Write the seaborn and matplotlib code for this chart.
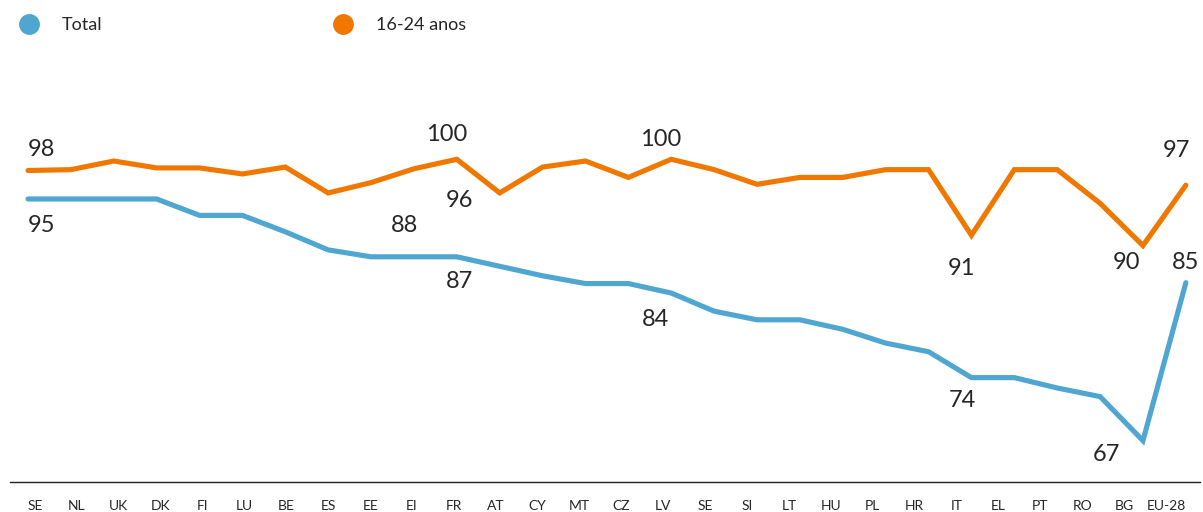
import numpy as np
import pandas as pd
import matplotlib
matplotlib.use('Agg')
import matplotlib.pyplot as plt
from matplotlib.lines import Line2D
import seaborn as sns


# Data.
countries = ['SE', 'NL', 'UK', 'DK', 'FI', 'LU', 'BE', 'ES', 'EE', 'EI', 'FR', 'AT', 'CY', 'MT',
             'CZ', 'LV', 'SE', 'SI', 'LT', 'HU', 'PL', 'HR', 'IT', 'EL', 'PT', 'RO', 'BG', 'EU-28']
total = [95.0, 95.0, 95.0, 95.0, 93.1, 93.1, 91.2, 89.1, 88.3, 88.3, 88.3, 87.2, 86.1, 85.2,
         85.2, 84.1, 82.0, 81.0, 81.0, 79.9, 78.3, 77.3, 74.3, 74.3, 73.1, 72.1, 67.0, 85.3]
young = [98.3, 98.4, 99.4, 98.6, 98.6, 97.9, 98.7, 95.7, 96.9, 98.5, 99.6, 95.7, 98.7, 99.4,
         97.5, 99.6, 98.4, 96.7, 97.5, 97.5, 98.4, 98.4, 90.8, 98.4, 98.4, 94.5, 89.6, 96.6]
series_names = ['Total', '16-24 anos']
colors = ['#4ea6d1', '#f07800']

# Value labels: (series, index, x offset px, y offset px)
labels = [
    (1, 0, 13, 21), (0, 0, 13, -27),
    (0, 9, -9, 31), (1, 10, -10, 25),
    (1, 11, -40, -8), (0, 11, -40, -15),
    (1, 15, -11, 20), (0, 15, -16, -26),
    (1, 22, -10, -33), (0, 22, -9, -23),
    (1, 26, -16, -17), (0, 26, -37, -14),
    (1, 27, -9, 35), (0, 27, 0, 20),
]

n = len(countries)
df = pd.DataFrame({
    'pos': np.tile(np.arange(n), 2),
    'value': total + young,
    'serie': [series_names[0]] * n + [series_names[1]] * n,
})

sns.set_style('white')
plt.rcParams['font.family'] = ['Lato', 'DejaVu Sans']
text_color = '#262626'

fig = plt.figure(figsize=(12.03, 5.12), dpi=100)
ax = fig.add_axes([10 / 1203, 1 - 481.7 / 512, 1190 / 1203, 381.7 / 512])

sns.lineplot(data=df, x='pos', y='value', hue='serie', palette=colors,
             hue_order=series_names, linewidth=3.7, legend=False, ax=ax)
for line in ax.lines:
    line.set_solid_joinstyle('miter')

ax.set_xlim(-0.42, 27.33)
ax.set_ylim(62.24, 106.47)

# Tick labels are spaced a little tighter than the line points in the original.
tick_pos = (7 + np.arange(n) * 41.9) / 42.89
ax.set_xticks(tick_pos)
ax.set_xticklabels(countries, fontsize=10, color=text_color)
ax.tick_params(axis='x', length=0, pad=13)
ax.set_yticks([])
ax.set_xlabel('')
ax.set_ylabel('')
sns.despine(ax=ax, left=True, top=True, right=True)
ax.spines['bottom'].set_color('#222222')
ax.spines['bottom'].set_linewidth(1.0)

data = [total, young]
for s, i, dx, dy in labels:
    v = data[s][i]
    ax.annotate(f'{v:.0f}', xy=(i, v), xytext=(dx, dy), textcoords='offset pixels',
                ha='center', va='center', fontsize=17, color=text_color)

handles = [Line2D([], [], marker='o', linestyle='', markersize=14, color=c) for c in colors]
fig.legend(handles, series_names, loc='center left', bbox_to_anchor=(18 / 1203, 1 - 25 / 512),
           ncol=2, frameon=False, handletextpad=1.25, columnspacing=12.7,
           prop={'size': 13}, labelcolor=text_color,
           borderaxespad=0, borderpad=0, handlelength=1.2)

fig.savefig('out.png', dpi=100)
